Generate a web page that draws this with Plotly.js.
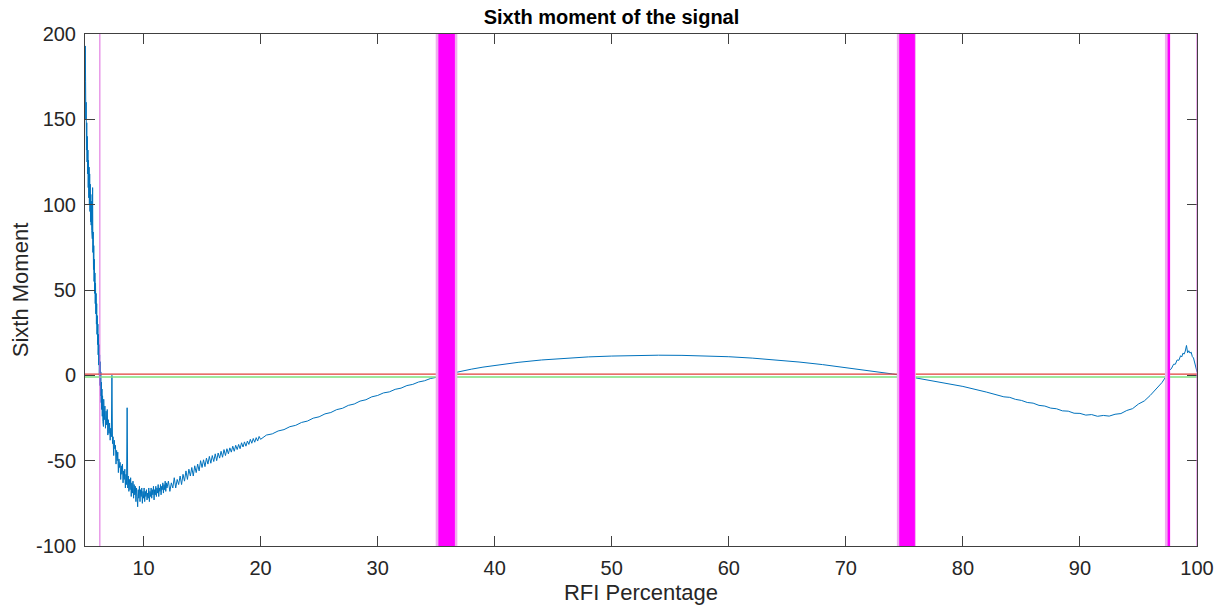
<!DOCTYPE html>
<html>
<head>
<meta charset="utf-8">
<script src="https://cdn.plot.ly/plotly-3.0.1.min.js"></script>
<style>html,body{margin:0;padding:0;background:#fff;}#chart{width:1223px;height:608px;}</style>
</head>
<body>
<div id="chart"></div>
<script>
// ---- data ----
// steep noisy start
const pctA = [
 5.000,5.025,5.050,5.075,5.100,5.125,5.150,5.175,
 5.200,5.225,5.250,5.275,5.300,5.325,5.350,5.375,
 5.400,5.425,5.450,5.475,5.500,5.525,5.550,5.575,
 5.600,5.625,5.650,5.675,5.700,5.725,5.750,5.775,
 5.800,5.825,5.850,5.875,5.900,5.925,5.950,5.975,
 6.000,6.025,6.050,6.075,6.100,6.125,6.150,6.175,
 6.200,6.225,6.250,6.275,6.300,6.325,6.350,6.375,
 6.400,6.425,6.450,6.475,6.500,6.525,6.550,6.575];
const momA = [
 150,193,172,150,160,132,148,125,
 140,118,132,110,126,104,122,100,
 118,96,112,90,106,88,102,85,
 98,80,110,72,84,62,76,55,
 68,48,60,42,54,36,48,30,
 42,24,35,18,30,12,24,6,
 18,0,12,-6,8,-12,2,-16,
 -4,-20,-8,-24,-12,-27,-16,-30];
// noisy trough
const pctB = [
 6.60,6.65,6.70,6.75,6.80,6.85,6.90,6.95,7.00,7.05,
 7.10,7.15,7.20,7.25,7.30,7.35,7.40,7.45,7.50,7.55,
 7.60,7.65,7.70,7.75,7.80,7.85,7.90,7.95,8.00,8.05,
 8.10,8.15,8.20,8.25,8.30,8.35,8.40,8.45,8.50,8.55,
 8.60,8.65,8.70,8.75,8.80,8.85,8.90,8.95,9.00,9.05,
 9.10,9.15,9.20,9.25,9.30,9.35,9.40,9.45,9.50,9.55,
 9.60,9.65,9.70,9.75,9.80,9.85,9.90,9.95,10.00,10.05,
 10.10,10.15,10.20,10.25,10.30,10.35,10.40,10.45,10.50,10.55,
 10.60,10.65,10.70,10.75,10.80,10.85,10.90,10.95,11.00,11.05,
 11.10,11.15,11.20,11.25,11.30,11.35,11.40,11.45,11.50,11.55,
 11.60,11.65,11.70,11.75,11.80,11.85,11.90,11.95,12.00];
const momB = [
 -14,-26,-18,-31,-21,-29,-20,-35,-26,-34,
 -28,-38,-31,-36,0,-40,-36,-47,-38,-43,
 -41,-52,-44,-50,-45,-57,-49,-54,-51,-61,
 -53,-58,-52,-63,-56,-61,-55,-66,-58,-64,
 -19,-66,-59,-68,-61,-67,-60,-71,-63,-69,
 -62,-72,-64,-70,-65,-74,-66,-71,-77,-67,
 -72,-65,-74,-67,-71,-66,-75,-68,-72,-66,
 -74,-68,-71,-67,-73,-69,-72,-66,-74,-68,
 -71,-66,-72,-67,-70,-65,-73,-67,-70,-65,
 -71,-66,-69,-64,-71,-66,-68,-64,-70,-65,
 -67,-63,-69,-64,-67,-62,-68,-63,-66];
// recovering branch
const pctC = [
 12.125,12.250,12.375,12.500,12.625,12.750,12.875,13.000,
 13.125,13.250,13.375,13.500,13.625,13.750,13.875,14.000,
 14.125,14.250,14.375,14.500,14.625,14.750,14.875,15.000,
 15.125,15.250,15.375,15.500,15.625,15.750,15.875,16.000,
 16.125,16.250,16.375,16.500,16.625,16.750,16.875,17.000,
 17.125,17.250,17.375,17.500,17.625,17.750,17.875,18.000,
 18.125,18.250,18.375,18.500,18.625,18.750,18.875,19.000,
 19.125,19.250,19.375,19.500,19.625,19.750,19.875,20.000];
const momC = [
 -62,-68,-63,-66,-60,-66,-61,-64,
 -59,-64,-58,-62,-56,-61,-55,-59,
 -54,-59,-53,-57,-52,-56,-50,-54,
 -49.5,-53.5,-48.5,-52,-47.5,-51.5,-47,-50.5,
 -46,-50,-45.5,-48.5,-44.5,-48,-43.5,-47,
 -43,-46,-42.5,-45,-41.5,-44.5,-41,-43.5,
 -40.5,-43,-39.5,-42,-39,-41.5,-38.5,-40.5,
 -37.5,-39.8,-37,-39.2,-36.5,-38.5,-35.8,-37.5];
const pctD = [
 20.5,21,21.5,22,22.5,23,23.5,24,24.5,25,25.5,26,26.5,27,27.5,28,28.5,29,29.5,30,
 30.5,31,31.5,32,32.5,33,33.5,34,34.5,35,35.5];
const momD = [
 -35.0,-34.3,-32.6,-31.8,-30.1,-29.3,-27.6,-26.8,-25.1,-24.3,-22.6,-21.8,-20.1,-19.3,-17.6,-16.8,-15.1,-14.3,-12.6,-11.8,
 -10.3,-9.7,-8.2,-7.5,-6.0,-5.3,-3.9,-3.2,-1.9,-1.2,0];
// smooth hump
const pctE = [36,37,38,39,40,42,44,46,48,50,52,54,56,58,60,62,64,66,68,70,72,74,75,76,78,80,82];
const momE = [0.8,2.3,3.6,4.8,5.8,7.6,9,10,10.8,11.3,11.6,11.8,11.7,11.4,10.9,10.1,9.1,7.8,6.3,4.6,2.8,0.8,-0.3,-1.5,-4,-6.5,-9.8];
// second trough and final hump
const pctF = [
 83,83.5,84,84.5,85,85.5,86,86.5,87,87.5,88,88.5,89,89.5,90,90.5,91,91.5,92,92.5,93,93.5,94,94.5,
 95,95.5,96,96.5,97,97.3,97.6,97.8,98,98.15,98.3,98.45,98.6,98.7,98.8,98.9,99,99.1,99.2,99.3,99.4,
 99.5,99.6,99.7,99.8,99.9,100];
const momF = [
 -11.4,-12.6,-12.9,-14.1,-14.7,-15.9,-16.3,-17.6,-18.0,-19.2,-19.6,-20.8,-21.0,-22.2,-22.3,-23.3,-23.0,-24.0,-23.5,-23.9,-22.8,-22.4,-20.6,-19.5,
 -16.8,-15.0,-11.8,-8.3,-4.3,-1.2,2.8,3.8,6.5,6.5,9.0,8.8,11.5,10.8,13.0,12.4,14.2,17.5,13.2,14.4,13.0,
 13.6,11.0,10.2,7.0,5.0,2.0];

const redLevel = 0.7;
const greenLevel = -1.0;
const xRange = [5, 100];
const yRange = [-100, 200];
const xTicks = [10, 20, 30, 40, 50, 60, 70, 80, 90, 100];
const yTicks = [-100, -50, 0, 50, 100, 150, 200];
const yTickText = ['-100', '-50', '0', '50', '100', '150', '200'];
// flagged RFI regions: light edge spans and solid core spans
const bandEdges = [[34.96, 36.81], [74.36, 75.98], [97.26, 97.70]];
const bandCores = [[35.19, 36.60], [74.56, 75.90], [97.49, 97.70]];
const thinLines = [6.27, 100];

// ---- build chart ----
const rfiPct = [].concat(pctA, pctB, pctC, pctD, pctE, pctF);
const sixthMoment = [].concat(momA, momB, momC, momD, momE, momF);
const FONT = 'Liberation Sans, Arial, sans-serif';

const traces = [
  {x: rfiPct, y: sixthMoment, type: 'scatter', mode: 'lines',
   line: {color: '#0072BD', width: 1}, hoverinfo: 'skip'},
  {x: xRange, y: [redLevel, redLevel], type: 'scatter', mode: 'lines',
   line: {color: '#e0403a', width: 1.2}},
  {x: xRange, y: [greenLevel, greenLevel], type: 'scatter', mode: 'lines',
   line: {color: '#7ee07e', width: 1.5}}
];

const shapes = [];
bandEdges.forEach(b => shapes.push({type: 'rect', xref: 'x', yref: 'paper', x0: b[0], x1: b[1], y0: 0, y1: 1,
  fillcolor: '#efaeef', line: {width: 0}, layer: 'above'}));
bandCores.forEach(b => shapes.push({type: 'rect', xref: 'x', yref: 'paper', x0: b[0], x1: b[1], y0: 0, y1: 1,
  fillcolor: '#ff00ff', line: {width: 0}, layer: 'above'}));
thinLines.forEach(v => shapes.push({type: 'line', xref: 'x', yref: 'paper', x0: v, x1: v, y0: 0, y1: 1,
  line: {color: '#dd66dd', width: 1}, layer: 'above'}));

const axisCommon = {
  showline: true, linecolor: '#404040', linewidth: 1, mirror: 'ticks',
  ticks: 'inside', ticklen: 10, tickcolor: '#404040', tickwidth: 1,
  showgrid: false, zeroline: false, ticklabelstandoff: 4,
  tickfont: {family: FONT, size: 20, color: '#262626'}
};

const layout = {
  width: 1223, height: 608,
  margin: {l: 85, r: 26, t: 34, b: 62},
  paper_bgcolor: '#fff', plot_bgcolor: '#fff',
  showlegend: false,
  title: {text: '<b>Sixth moment of the signal</b>', x: 0.5, xanchor: 'center', y: 0.972, yanchor: 'middle',
          font: {family: FONT, size: 20, color: '#000'}},
  xaxis: Object.assign({}, axisCommon, {range: xRange, tickvals: xTicks,
    title: {text: 'RFI Percentage', standoff: 6, font: {family: FONT, size: 22, color: '#262626'}}}),
  yaxis: Object.assign({}, axisCommon, {range: yRange, tickvals: yTicks, ticktext: yTickText,
    title: {text: 'Sixth Moment', standoff: 1, font: {family: FONT, size: 22, color: '#262626'}}}),
  shapes: shapes
};

Plotly.newPlot('chart', traces, layout, {staticPlot: true, displayModeBar: false});
</script>
</body>
</html>
